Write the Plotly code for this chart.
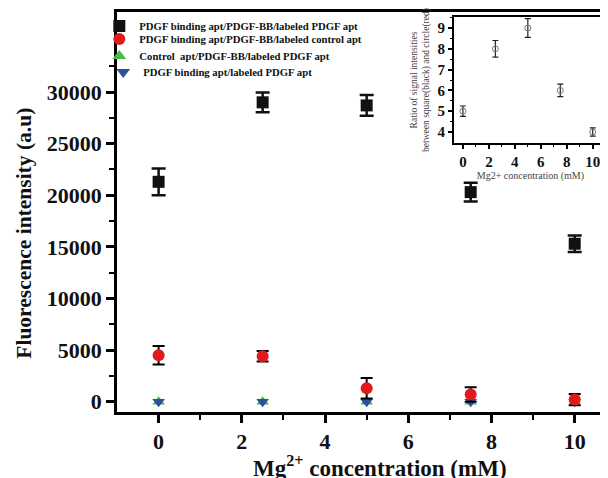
import plotly.graph_objects as go

x_mg = [0, 2.5, 5, 7.5, 10]
black_y = [21300, 29000, 28700, 20300, 15300]
black_err = [1300, 950, 1000, 900, 800]
red_y = [4500, 4400, 1300, 700, 200]
red_err = [900, 500, 1000, 700, 550]
green_y = [0, 0, 0, 0, 0]
blue_y = [0, 0, 0, 0, 0]
ratio_y = [5, 8, 9, 6, 4]
ratio_err = [0.25, 0.4, 0.45, 0.3, 0.2]

names = [
    "PDGF binding apt/PDGF-BB/labeled PDGF apt",
    "PDGF binding apt/PDGF-BB/labeled control apt",
    "Control  apt/PDGF-BB/labeled PDGF apt",
    "PDGF binding apt/labeled PDGF apt",
]

FONT = "'Liberation Serif', 'Times New Roman', serif"
fig = go.Figure()

fig.add_trace(go.Scatter(x=x_mg, y=green_y, mode="markers", name=names[2], legend="legend3",
                         marker=dict(symbol="triangle-up", size=11, color="#4db848"),
                         xaxis="x", yaxis="y"))
fig.add_trace(go.Scatter(x=x_mg, y=blue_y, mode="markers", name=names[3], legend="legend4",
                         marker=dict(symbol="triangle-down", size=11, color="#2e4fa0"),
                         xaxis="x", yaxis="y"))
fig.add_trace(go.Scatter(x=x_mg, y=red_y, mode="markers", name=names[1], legend="legend2",
                         marker=dict(symbol="circle", size=12, color="#e31a1c"),
                         error_y=dict(type="data", array=red_err, color="black", thickness=2, width=6),
                         xaxis="x", yaxis="y"))
fig.add_trace(go.Scatter(x=x_mg, y=black_y, mode="markers", name=names[0], legend="legend",
                         marker=dict(symbol="square", size=12, color="#111111"),
                         error_y=dict(type="data", array=black_err, color="#111111", thickness=2.5, width=7),
                         xaxis="x", yaxis="y"))

fig.add_trace(go.Scatter(x=x_mg, y=ratio_y, mode="markers", showlegend=False,
                         marker=dict(symbol="circle-open", size=6, color="#777777", line=dict(width=1)),
                         error_y=dict(type="data", array=ratio_err, color="#222222", thickness=1.2, width=3),
                         xaxis="x2", yaxis="y2"))

axis_common = dict(showgrid=False, zeroline=False, showline=True, linecolor="black",
                   ticks="outside", tickcolor="black", automargin=False)

leg_font = dict(family=FONT, size=10.7, color="#111111", weight="bold")


def leg(x, y):
    return dict(x=x, y=y, xanchor="left", yanchor="middle", bgcolor="rgba(0,0,0,0)",
                font=leg_font, itemsizing="constant", itemwidth=30, borderwidth=0,
                itemclick=False, itemdoubleclick=False)


fig.update_layout(
    width=600, height=470,
    margin=dict(l=109, r=0, t=4, b=66),
    paper_bgcolor="white", plot_bgcolor="white",
    font=dict(family=FONT, color="#111111"),
    legend=leg(-0.036, 0.965),
    legend2=leg(-0.036, 0.9325),
    legend3=leg(-0.036, 0.89),
    legend4=leg(-0.028, 0.85),
    xaxis=dict(**axis_common, range=[-1, 10.8], linewidth=2.5, mirror=True,
               tickvals=[0, 2, 4, 6, 8, 10], ticklen=8, tickwidth=2.5,
               tickfont=dict(size=22, family=FONT, weight="bold"),
               minor=dict(tickvals=[1, 3, 5, 7, 9], ticks="outside", ticklen=5, tickwidth=2, tickcolor="black")),
    yaxis=dict(**axis_common, range=[-1000, 37750], linewidth=2.5, tickformat="d",
               tickvals=[0, 5000, 10000, 15000, 20000, 25000, 30000], ticklen=8, tickwidth=2.5,
               tickfont=dict(size=22, family=FONT, weight="bold"),
               minor=dict(tickvals=[2500, 7500, 12500, 17500, 22500, 27500, 32500], ticks="outside",
                          ticklen=5, tickwidth=2, tickcolor="black")),
    xaxis2=dict(**axis_common, domain=[0.686, 0.998], anchor="y2", range=[-0.7, 11.1],
                linewidth=1.8, mirror=True, tickvals=[0, 2, 4, 6, 8, 10], ticklen=4, tickwidth=1.5,
                tickfont=dict(size=15, family=FONT, weight="bold"),
                minor=dict(tickvals=[1, 3, 5, 7, 9], ticks="outside", ticklen=2, tickwidth=1, tickcolor="black"),
                title=dict(text="Mg2+ concentration (mM)", standoff=2,
                           font=dict(size=10, family=FONT, color="#444444"))),
    yaxis2=dict(**axis_common, domain=[0.6725, 0.9875], anchor="x2", range=[3.47, 9.53],
                linewidth=1.8, mirror=True, tickvals=[4, 5, 6, 7, 8, 9], ticklen=4, tickwidth=1.5,
                tickfont=dict(size=15, family=FONT, weight="bold"),
                minor=dict(tickvals=[4.5, 5.5, 6.5, 7.5, 8.5, 9.5], ticks="outside", ticklen=2,
                           tickwidth=1, tickcolor="black"),
                title=dict(text="Ratio of signal intensities<br>between square(black) and circle(red)",
                           standoff=6, font=dict(size=9.5, family=FONT, color="#444444"))),
    annotations=[
        dict(text="Fluorescence intensity (a.u)", xref="paper", yref="paper", x=-0.19, y=0.4475,
             textangle=-90, showarrow=False, xanchor="center", yanchor="middle",
             font=dict(size=21.5, family=FONT, weight="bold", color="#111111")),
        dict(text="Mg<sup>2+</sup> concentration (mM)", xref="paper", yref="paper", x=0.536, y=-0.135,
             showarrow=False, xanchor="center", yanchor="middle",
             font=dict(size=23, family=FONT, weight="bold", color="#111111")),
    ],
)

fig.write_html("out.html")
